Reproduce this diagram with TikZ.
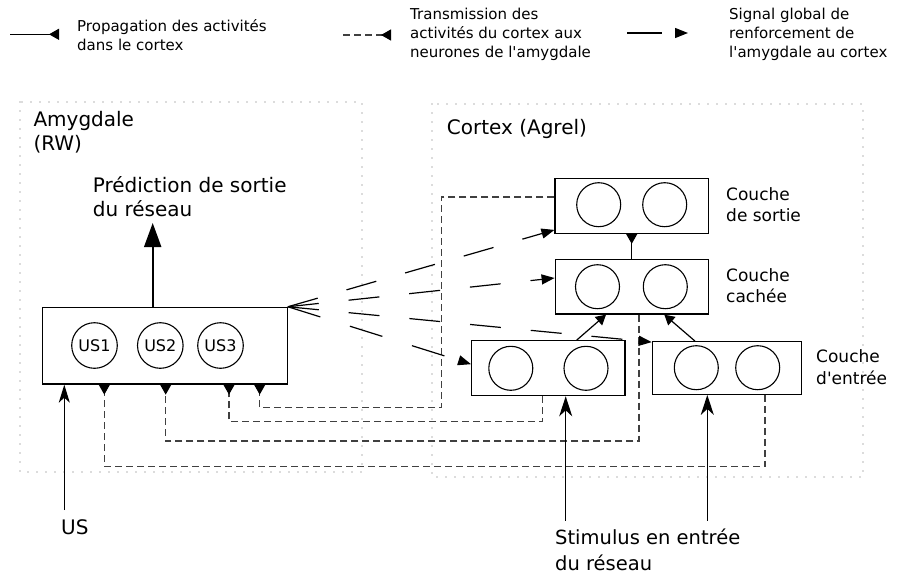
\documentclass[tikz,border=0pt]{standalone}
\usepackage{fontspec}
\setmainfont{DejaVu Sans}
\usetikzlibrary{arrows.meta,calc}
\begin{document}
\begin{tikzpicture}[x=1pt,y=-1pt,
  layer/.style={draw,line width=1.2pt,inner sep=0pt},
  neuron/.style={draw,circle,line width=1.1pt,inner sep=0pt,minimum size=#1},
  neuron/.default=44pt,
  prop/.style={line width=1.2pt,-{Triangle[length=10pt,width=11pt]}},
  propr/.style={line width=1.2pt,-{Triangle[reversed,length=10pt,width=11pt]}},
  trans/.style={line width=1.2pt,black!75,dash pattern=on 7pt off 4pt,-{Triangle[reversed,length=10pt,width=11pt,color=black]}},
  reinf/.style={line width=1.2pt,dash pattern=on 31pt off 30pt,-{Triangle[length=13pt,width=10pt]}},
  stim/.style={line width=1.2pt,-{Stealth[length=20pt,width=13pt,inset=6pt]}},
  region/.style={black!60,line width=1.3pt,line cap=round,dash pattern=on 0pt off 9pt},
  lbl/.style={anchor=base west,inner sep=0pt,align=left},
  big/.style={font=\fontsize{20pt}{24.4pt}\selectfont},
  mid/.style={font=\fontsize{17pt}{21.5pt}\selectfont},
  small/.style={font=\fontsize{15pt}{18.7pt}\selectfont}
]
\useasboundingbox (0,0) rectangle (913,576);

% regions
\draw[region] (20,102) rectangle (362,472);
\draw[region] (432,104) rectangle (863,477);

% legend
\coordinate (l1a) at (10,34.3);
\coordinate (l1b) at (59,34.3);
\draw[propr] (l1a) -- (l1b);
\node[lbl,small] (leg1) at (77,50) {Propagation des activités\\dans le cortex};
\coordinate (l2a) at (343,35);
\coordinate (l2b) at (391,35);
\draw[trans] (l2a) -- (l2b);
\node[lbl,small] (leg2) at (410,57.3) {Transmission des\\activités du cortex aux\\neurones de l\textquotesingle amygdale};
\coordinate (l3a) at (627,33);
\coordinate (l3b) at (688,33);
\draw[reinf,dash pattern=on 35pt off 40pt] (l3a) -- (l3b);
\node[lbl,small] (leg3) at (729,57.3) {Signal global de\\renforcement de\\l\textquotesingle amygdale au cortex};

% region labels
\node[lbl,font=\fontsize{20pt}{23.5pt}\selectfont] (amyglbl) at (33.3,150.2) {Amygdale\\(RW)};
\node[lbl,big] (cortlbl) at (446.7,134) {Cortex (Agrel)};

% amygdala
\node[layer,minimum width=245pt,minimum height=76.7pt] (amyg) at (164.8,345.7) {};
\node[neuron=45.6pt,font=\fontsize{16pt}{18pt}\selectfont] (us1) at (94.5,345.5) {US1};
\node[neuron=45.6pt,font=\fontsize{16pt}{18pt}\selectfont] (us2) at (160.3,345.5) {US2};
\node[neuron=45.6pt,font=\fontsize{16pt}{18pt}\selectfont] (us3) at (220.5,345.5) {US3};

\coordinate (predtip) at (152.7,223);
\draw[line width=2pt,-{Triangle[length=24pt,width=17pt]}] (amyg.north -| predtip) -- (predtip);
\node[lbl,big] (predlbl) at (92.7,216.7) {Prédiction de sortie\\du réseau};

% cortex layers
\node[layer,minimum width=153.3pt,minimum height=55pt] (out) at (631.7,205.8) {};
\node[neuron] (o1) at (598.7,204.7) {};
\node[neuron] (o2) at (664.7,204.7) {};
\node[layer,minimum width=153pt,minimum height=54.7pt] (hid) at (631.7,286.7) {};
\node[neuron] (h1) at (597.5,286.7) {};
\node[neuron] (h2) at (665.3,286.7) {};
\node[layer,minimum width=153.3pt,minimum height=55pt] (in1) at (548.3,368.2) {};
\node[neuron] (a1) at (510.8,368.3) {};
\node[neuron] (a2) at (586,368.3) {};
\node[layer,minimum width=149.4pt,minimum height=52.6pt] (in2) at (727,368) {};
\node[neuron] (b1) at (696.3,367.7) {};
\node[neuron] (b2) at (757.7,367.7) {};

\node[lbl,mid] (outlbl) at (726,221.7) {Couche\\de sortie};
\node[lbl,font=\fontsize{17pt}{20.6pt}\selectfont] (hidlbl) at (726,302.3) {Couche\\cachée};
\node[lbl,font=\fontsize{17pt}{22pt}\selectfont] (inlbl) at (816,384.3) {Couche\\d\textquotesingle entrée};

% propagation in cortex
\draw[propr] (hid.north) -- (out.south);
\draw[prop] ([xshift=28.4pt]in1.north) -- ([xshift=-25.7pt]hid.south);
\draw[prop] ([xshift=-32pt]in2.north) -- ([xshift=32.6pt]hid.south);

% transmission cortex -> amygdala
\coordinate (c1) at (441.7,407.7);
\coordinate (t1) at (259.7,407.7);
\draw[trans] ([yshift=8.8pt]out.west) -| (c1) -- (t1) -- (t1 |- amyg.south);
\coordinate (t2) at (229,421.7);
\draw[trans] ([xshift=-6pt]in1.south) |- (t2) -- (t2 |- amyg.south);
\coordinate (t3) at (165.7,441);
\draw[trans] ([xshift=7.3pt]hid.south) |- (t3) -- (t3 |- amyg.south);
\coordinate (t4) at (104.3,466.7);
\draw[trans] ([xshift=38pt]in2.south) |- (t4) -- (t4 |- amyg.south);

% reinforcement
\draw[reinf] (amyg.north east) -- ([yshift=4pt]out.south west);
\draw[reinf] (amyg.north east) -- ([yshift=8.7pt]hid.west);
\draw[reinf] (amyg.north east) -- ([yshift=-1pt]in2.north west);
\draw[reinf,dash pattern=on 34pt off 31pt] (amyg.north east) -- ([yshift=4pt]in1.west);

% inputs
\coordinate (usstart) at (64.3,510);
\draw[stim,-{Stealth[length=18pt,width=11pt,inset=5pt]}] (usstart) -- (usstart |- amyg.south);
\node[lbl,big] (uslbl) at (61,534) {US};
\coordinate (s1) at (565.7,520.7);
\coordinate (s2) at (707.3,520.7);
\draw[stim] (s1) -- (s1 |- in1.south);
\draw[stim] (s2) -- (s2 |- in2.south);
\node[lbl,font=\fontsize{19.5pt}{25.7pt}\selectfont] (stimlbl) at (555,570) {Stimulus en entrée\\du réseau};
\end{tikzpicture}
\end{document}
